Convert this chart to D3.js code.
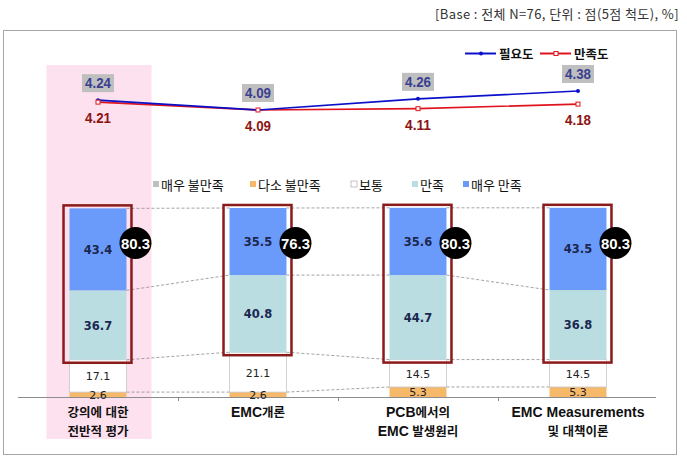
<!DOCTYPE html>
<html><head><meta charset="utf-8">
<script src="https://cdn.jsdelivr.net/npm/d3@7"></script>
<style>body{margin:0;background:#fff;}svg{display:block;}</style>
</head><body>
<svg id="c" width="687" height="461"></svg>
<script>
const categories = ["강의에 대한\n전반적 평가", "EMC개론", "PCB에서의\nEMC 발생원리", "EMC Measurements\n및 대책이론"];
const needValues = [4.24, 4.09, 4.26, 4.38];
const satisValues = [4.21, 4.09, 4.11, 4.18];
const seriesNames = ["매우 불만족", "다소 불만족", "보통", "만족", "매우 만족"];
const veryDissat = [0, 0, 0, 0];
const someDissat = [2.6, 2.6, 5.3, 5.3];
const neutral = [17.1, 21.1, 14.5, 14.5];
const satisfied = [36.7, 40.8, 44.7, 36.8];
const verySatisfied = [43.4, 35.5, 35.6, 43.5];
const topTwoLabels = ["80.3", "76.3", "80.3", "80.3"];
const lineNames = ["필요도", "만족도"];

const svg = d3.select("#c");
const KR = "'Noto Sans CJK KR', sans-serif";
const seriesVals = [veryDissat, someDissat, neutral, satisfied, verySatisfied];
const colors = ["#bfbfbf", "#f6b96a", "#ffffff", "#b9dde1", "#6b9bfa"];

// header
svg.append("text").attr("x", 679).attr("y", 19).attr("text-anchor", "end")
  .attr("font-family", KR).attr("font-size", 13).attr("letter-spacing", 0.4).attr("fill", "#333")
  .text("[Base : 전체 N=76, 단위 : 점(5점 척도), %]");
// frame
svg.append("rect").attr("x", 3.5).attr("y", 30.5).attr("width", 673).attr("height", 424)
  .attr("fill", "none").attr("stroke", "#a6a6a6");

const x = d3.scaleBand().domain(categories).range([18, 658]).paddingInner(0.644).paddingOuter(0.322);
const bw = x.bandwidth();
const cx = c => x(c) + bw / 2;
const y = d3.scaleLinear().domain([0, 100]).range([397, 208]);
const yl = d3.scaleLinear().domain([3.5, 5]).range([148.6, 50.4]);

// pink highlight
svg.append("rect").attr("x", x(categories[0]) - 23).attr("y", 65)
  .attr("width", bw + 48).attr("height", 374).attr("fill", "#fde1ef");

// stack
const rows = categories.map((c, i) => {
  const o = { cat: c };
  seriesNames.forEach((s, j) => o[s] = seriesVals[j][i]);
  return o;
});
const stacked = d3.stack().keys(seriesNames)(rows);

// connector dashed lines
const conn = svg.append("g");
stacked.forEach(layer => {
  for (let i = 0; i < categories.length - 1; i++) {
    const v1 = layer[i][1], v2 = layer[i + 1][1];
    if (v1 === 0) continue;
    conn.append("line")
      .attr("x1", x(categories[i]) + bw).attr("y1", y(v1))
      .attr("x2", x(categories[i + 1])).attr("y2", y(v2))
      .attr("stroke", "#8c8c8c").attr("stroke-width", 0.8).attr("stroke-dasharray", "3,2");
  }
});

// bars
stacked.forEach((layer, j) => {
  svg.append("g").selectAll("rect").data(layer).join("rect")
    .attr("x", d => x(d.data.cat)).attr("width", bw)
    .attr("y", d => y(d[1])).attr("height", d => y(d[0]) - y(d[1]))
    .attr("fill", colors[j])
    .attr("stroke", j === 2 ? "#c8c8c8" : "none").attr("stroke-width", 0.8);
});

// axis
svg.append("line").attr("x1", 18).attr("x2", 656).attr("y1", 397.5).attr("y2", 397.5)
  .attr("stroke", "#8c8c8c");
for (let i = 1; i < categories.length; i++) {
  const tx = Math.round(cx(categories[i - 1]) + x.step() / 2) + 0.5;
  svg.append("line").attr("x1", tx).attr("x2", tx).attr("y1", 397).attr("y2", 401).attr("stroke", "#8c8c8c");
}

// segment labels
stacked.forEach((layer, j) => {
  if (j === 0) return;
  svg.append("g").selectAll("text").data(layer).join("text")
    .attr("x", d => cx(d.data.cat)).attr("y", d => (y(d[0]) + y(d[1])) / 2 + 4.5)
    .attr("text-anchor", "middle")
    .attr("font-family", "'DejaVu Sans', sans-serif")
    .attr("font-size", j >= 3 ? 11.5 : 11)
    .attr("font-weight", j >= 3 ? "bold" : "normal")
    .attr("fill", j >= 3 ? "#1c2750" : "#222")
    .text(d => d[1] - d[0] ? (d[1] - d[0]).toFixed(1) : "");
});

// top-2 boxes
categories.forEach((c, i) => {
  const top = y(stacked[4][i][1]), bot = y(stacked[2][i][1]);
  svg.append("rect").attr("x", x(c) - 6).attr("y", top - 3)
    .attr("width", bw + 11).attr("height", bot - top + 6)
    .attr("fill", "none").attr("stroke", "#8b1a1a").attr("stroke-width", 2.5);
  svg.append("circle").attr("cx", x(c) + bw + 9).attr("cy", 243).attr("r", 16).attr("fill", "#000");
  svg.append("text").attr("x", x(c) + bw + 9).attr("y", 248.5).attr("text-anchor", "middle")
    .attr("font-family", "'Liberation Sans', Arial, sans-serif").attr("font-weight", "bold")
    .attr("font-size", 15).attr("fill", "#fff").attr("textLength", 29).attr("lengthAdjust", "spacingAndGlyphs")
    .text(topTwoLabels[i]);
});

// category labels (Latin runs slightly larger, like the original Gulim rendering)
categories.forEach(c => {
  c.split("\n").forEach((ln, k) => {
    const t = svg.append("text").attr("x", cx(c)).attr("y", 417 + k * 19).attr("text-anchor", "middle")
      .attr("font-family", "'Liberation Sans', " + KR).attr("font-weight", "bold").attr("fill", "#111");
    const runs = ln.match(/[A-Za-z]+(?: [A-Za-z]+)*|[^A-Za-z]+/g);
    runs.forEach(r => {
      const latin = /[A-Za-z]/.test(r);
      t.append("tspan").attr("font-size", latin ? 14 : 12.5).text(r);
    });
  });
});

// bar legend
const legX = [153, 250, 351, 412, 463];
seriesNames.forEach((s, j) => {
  svg.append("rect").attr("x", legX[j]).attr("y", 181).attr("width", 6).attr("height", 6)
    .attr("fill", colors[j]).attr("stroke", j === 2 ? "#aaa" : "none").attr("stroke-width", 0.7);
  svg.append("text").attr("x", legX[j] + 8).attr("y", 189.5)
    .attr("font-family", KR).attr("font-size", 13).attr("fill", "#111").text(s);
});

// lines
const lineColors = ["#0a10c8", "#e0141c"];
const lineData = [needValues, satisValues];
const line = d3.line().x((d, i) => cx(categories[i])).y(d => yl(d));
[1, 0].forEach(k => {
  svg.append("path").attr("d", line(lineData[k])).attr("fill", "none")
    .attr("stroke", lineColors[k]).attr("stroke-width", 1.6);
});
needValues.forEach((v, i) => {
  svg.append("circle").attr("cx", cx(categories[i])).attr("cy", yl(v)).attr("r", 2).attr("fill", "#0a10c8");
});
satisValues.forEach((v, i) => {
  svg.append("rect").attr("x", cx(categories[i]) - 2).attr("y", yl(v) - 2).attr("width", 4).attr("height", 4)
    .attr("fill", "#fff").attr("stroke", "#e0141c").attr("stroke-width", 1);
});
// line labels
needValues.forEach((v, i) => {
  const px = cx(categories[i]), py = yl(v) - 17;
  svg.append("rect").attr("x", px - 16).attr("y", py - 9).attr("width", 32).attr("height", 18).attr("fill", "#bfbfbf");
  svg.append("text").attr("x", px).attr("y", py + 5).attr("text-anchor", "middle")
    .attr("font-family", "'Liberation Sans', Arial, sans-serif").attr("font-weight", "bold")
    .attr("font-size", 14).attr("fill", "#3b3f8f").attr("textLength", 26).attr("lengthAdjust", "spacingAndGlyphs")
    .text(v.toFixed(2));
});
satisValues.forEach((v, i) => {
  const px = cx(categories[i]), py = yl(v) + 16;
  svg.append("text").attr("x", px).attr("y", py + 5).attr("text-anchor", "middle")
    .attr("font-family", "'Liberation Sans', Arial, sans-serif").attr("font-weight", "bold")
    .attr("font-size", 14).attr("fill", "#8c1414").attr("textLength", 26).attr("lengthAdjust", "spacingAndGlyphs")
    .text(v.toFixed(2));
});

// line legend
const lgx = [465, 540];
lineNames.forEach((n, k) => {
  svg.append("line").attr("x1", lgx[k]).attr("x2", lgx[k] + 31).attr("y1", 53.5).attr("y2", 53.5)
    .attr("stroke", lineColors[k]).attr("stroke-width", 2);
  if (k === 0) svg.append("circle").attr("cx", lgx[k] + 16).attr("cy", 53.5).attr("r", 2).attr("fill", lineColors[k]);
  else svg.append("rect").attr("x", lgx[k] + 14).attr("y", 51.5).attr("width", 4).attr("height", 4)
    .attr("fill", "#fff").attr("stroke", lineColors[k]);
  svg.append("text").attr("x", lgx[k] + 34).attr("y", 58.5)
    .attr("font-family", KR).attr("font-weight", "bold").attr("font-size", 12.5).attr("fill", "#111").text(n);
});
</script>
</body></html>
